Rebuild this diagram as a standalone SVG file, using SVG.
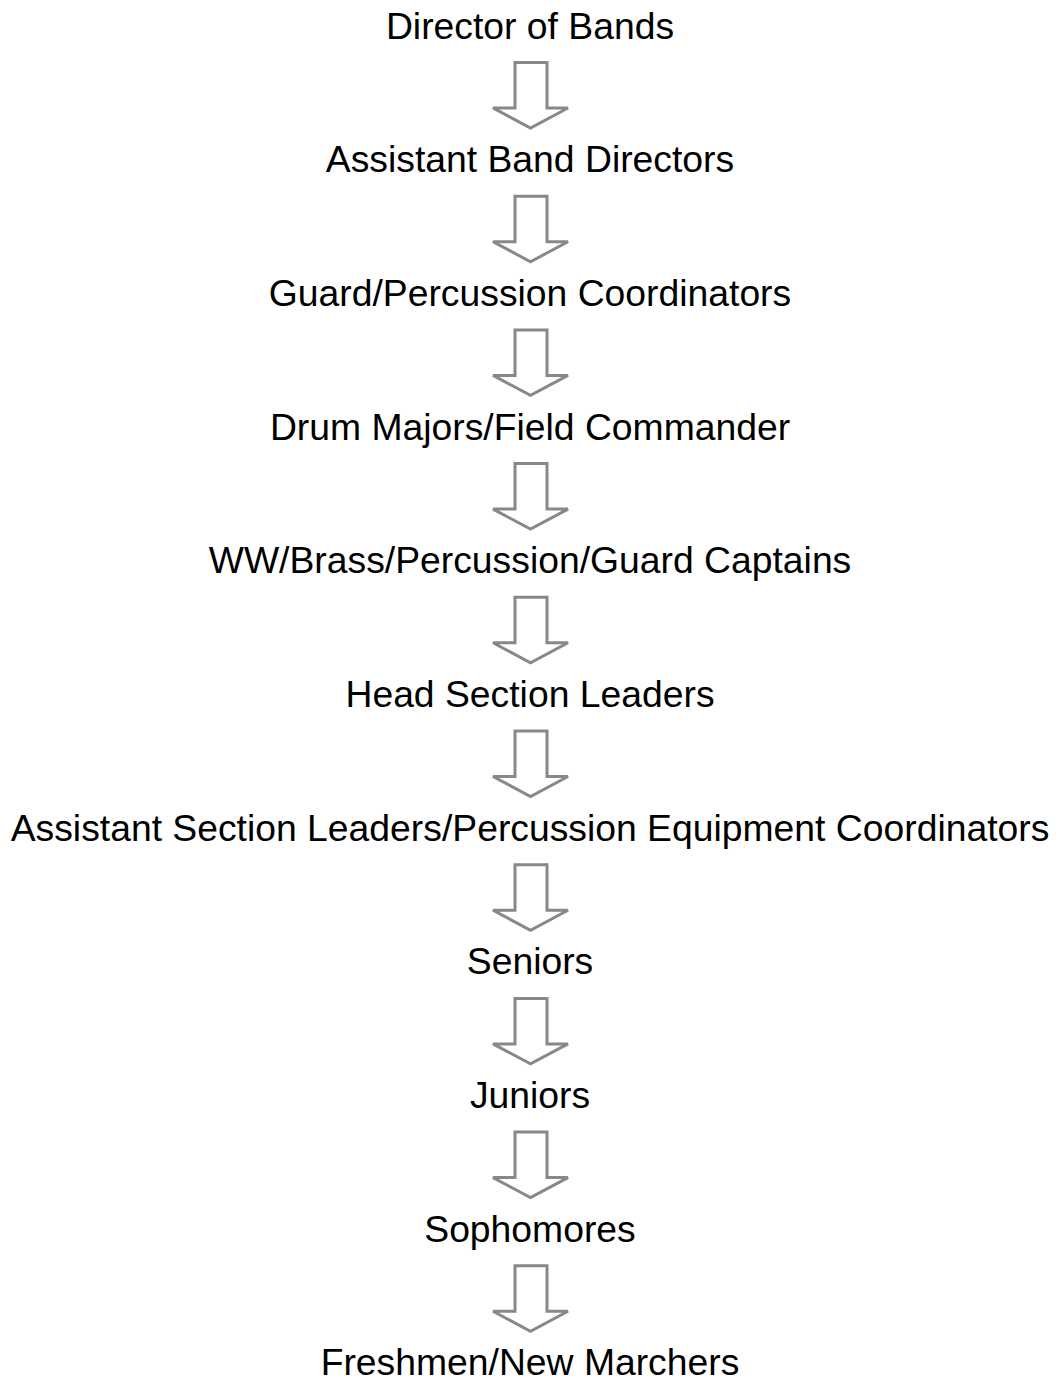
<svg xmlns="http://www.w3.org/2000/svg" width="1058" height="1380" viewBox="0 0 1058 1380">
<defs>
<style>
.t{font-family:"Liberation Sans",Arial,sans-serif;font-size:37.3px;fill:#000;text-anchor:middle}
.a{fill:#fff;stroke:#888;stroke-width:3;stroke-linejoin:miter}
</style>
<path id="arr" class="a" d="M515,62.5 H547 V108 H568 L530.5,128 L493,108 H515 Z"/>
</defs>
<rect width="1058" height="1380" fill="#fff"/>
<g id="connectors">
<use href="#arr"/>
<use href="#arr" y="133.7"/>
<use href="#arr" y="267.4"/>
<use href="#arr" y="401.1"/>
<use href="#arr" y="534.8"/>
<use href="#arr" y="668.5"/>
<use href="#arr" y="802.2"/>
<use href="#arr" y="935.9"/>
<use href="#arr" y="1069.6"/>
<use href="#arr" y="1203.3"/>
</g>
<g id="n1"><text class="t" x="530" y="38.5">Director of Bands</text></g>
<g id="n2"><text class="t" x="530" y="172.2">Assistant Band Directors</text></g>
<g id="n3"><text class="t" x="530" y="305.9">Guard/Percussion Coordinators</text></g>
<g id="n4"><text class="t" x="530" y="439.6">Drum Majors/Field Commander</text></g>
<g id="n5"><text class="t" x="530" y="573.3">WW/Brass/Percussion/Guard Captains</text></g>
<g id="n6"><text class="t" x="530" y="707">Head Section Leaders</text></g>
<g id="n7"><text class="t" x="530" y="840.7">Assistant Section Leaders/Percussion Equipment Coordinators</text></g>
<g id="n8"><text class="t" x="530" y="974.4">Seniors</text></g>
<g id="n9"><text class="t" x="530" y="1108.1">Juniors</text></g>
<g id="n10"><text class="t" x="530" y="1241.8">Sophomores</text></g>
<g id="n11"><text class="t" x="530" y="1375">Freshmen/New Marchers</text></g>
</svg>
